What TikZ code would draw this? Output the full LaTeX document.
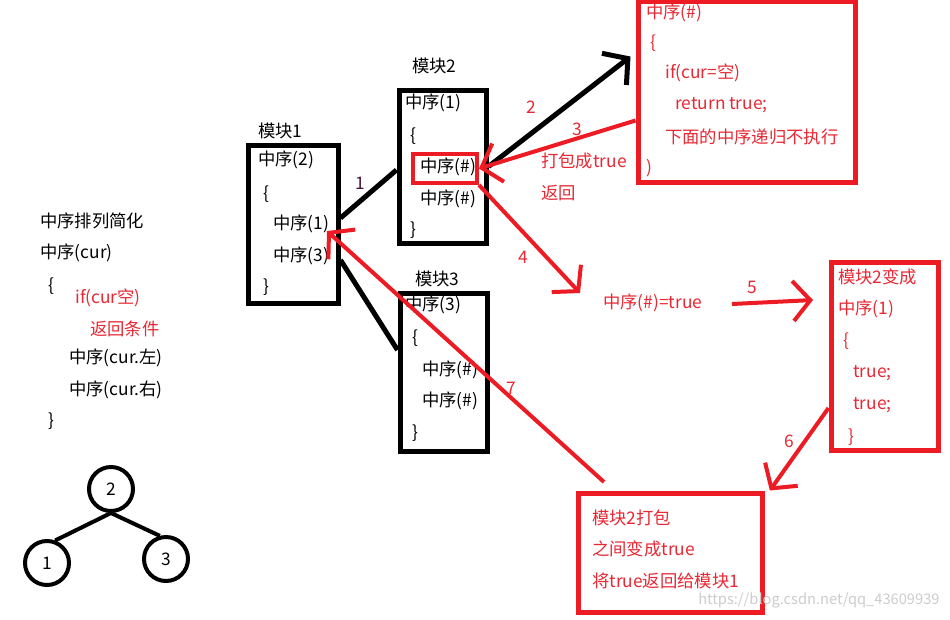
\documentclass[tikz,border=0pt]{standalone}
\usepackage{fontspec}
\setmainfont{Noto Sans CJK SC}
\usetikzlibrary{arrows.meta}
\definecolor{myred}{RGB}{237,28,36}
\definecolor{txtred}{RGB}{232,40,52}
\definecolor{wm}{RGB}{205,205,205}
\tikzset{
  txt/.style={anchor=west,inner sep=0pt,font=\fontsize{13pt}{15pt}\selectfont},
  rtxt/.style={txt,text=txtred},
  blackbox/.style={draw=black,line width=3.75pt,inner sep=0pt},
  redbox/.style={draw=myred,line width=3.75pt,inner sep=0pt},
  circ/.style={draw=black,circle,line width=3pt,minimum size=33pt,inner sep=0pt,font=\fontsize{13pt}{15pt}\selectfont},
  bline/.style={draw=black,line width=3.75pt},
  tline/.style={draw=black,line width=3pt},
  rarrow/.style={draw=myred,line width=3pt,-{Straight Barb[length=13pt,width=30pt]}},
  karrow/.style={draw=black,line width=3.75pt,-{Straight Barb[length=13pt,width=30pt]}},
}
\begin{document}
\begin{tikzpicture}[x=0.75pt,y=-0.75pt]
\useasboundingbox (0,0) rectangle (950,619);
\fill[white] (0,0) rectangle (950,619);

% left text
\node[txt] (t1) at (40,221) {中序排列简化};
\node[txt] (t2) at (40,253) {中序(cur)};
\node[txt] (t3) at (48,286) {\{};
\node[rtxt] (t4) at (75,298) {if(cur空)};
\node[rtxt] (t5) at (90,329) {返回条件};
\node[txt] (t6) at (69,358) {中序(cur.左)};
\node[txt] (t7) at (69,390) {中序(cur.右)};
\node[txt] (t8) at (48,421) {\}};

% tree
\node[circ] (c2) at (111,489) {2};
\node[circ] (c1) at (47,563) {1};
\node[circ] (c3) at (166,559) {3};
\draw[tline] (c2.south) -- (c1.70);
\draw[tline] (c2.south) -- (c3.105);

% box 1
\node[blackbox,minimum width=67.5pt,minimum height=118.5pt] (b1) at (293,224) {};
\node[txt] (b1l) at (258,131) {模块1};
\node[txt] (b1a) at (258,160) {中序(2)};
\node[txt] (b1b) at (263,194) {\{};
\node[txt] (b1c) at (273,224) {中序(1)};
\node[txt] (b1d) at (273,256) {中序(3)};
\node[txt] (b1e) at (263,287) {\}};

% box 2
\node[blackbox,minimum width=65.25pt,minimum height=114.75pt] (b2) at (442.5,166.5) {};
\node[txt] (b2l) at (412,66) {模块2};
\node[txt] (b2a) at (405,103) {中序(1)};
\node[txt] (b2b) at (410,136) {\{};
\node[txt] (b2c) at (420,167) {中序(\#)};
\node[txt] (b2d) at (420,199) {中序(\#)};
\node[txt] (b2e) at (410,230) {\}};
\node[draw=myred,line width=3pt,minimum width=48pt,minimum height=21.75pt,inner sep=0pt] (sr) at (445,168.5) {};

% box 3
\node[blackbox,minimum width=65.25pt,minimum height=118.5pt] (b3) at (443.5,372) {};
\node[txt] (b3l) at (415,279) {模块3};
\node[txt] (b3a) at (405,305) {中序(3)};
\node[txt] (b3b) at (412,338) {\{};
\node[txt] (b3c) at (422,370) {中序(\#)};
\node[txt] (b3d) at (422,401) {中序(\#)};
\node[txt] (b3e) at (412,433) {\}};

% black connectors
\draw[bline] ([yshift=4.5pt]b1.east) -- ([yshift=-2.6pt]b2.west);
\draw[bline] ([yshift=-27pt]b1.east) -- ([yshift=16.5pt]b3.west);
\node[txt,text={rgb,255:red,70;green,20;blue,60}] (n1) at (355,183) {1};

% big red box
\node[redbox,minimum width=162.75pt,minimum height=135.75pt] (rb) at (746.5,91.5) {};
\node[rtxt] (rba) at (646,13) {中序(\#)};
\node[rtxt] (rbb) at (650,43) {\{};
\node[rtxt] (rbc) at (665,73) {if(cur=空)};
\node[rtxt] (rbd) at (675,105) {return true;};
\node[rtxt] (rbe) at (665,137) {下面的中序递归不执行};
\node[rtxt] (rbf) at (646,168) {)};

% arrows 2, 3
\draw[karrow] (b2.east) -- ([xshift=-3.75pt,yshift=26.25pt]rb.west);
\node[rtxt] (n2) at (526,107) {2};
\draw[rarrow] ([yshift=-21.75pt]rb.west) -- (sr.east);
\node[rtxt] (n3) at (572,129) {3};
\node[rtxt] (p1) at (541,161) {打包成true};
\node[rtxt] (p2) at (541,193) {返回};

% arrow 4
\coordinate (a4e) at (580,293);
\draw[rarrow] (sr.south east) -- (a4e);
\node[rtxt] (n4) at (518,257) {4};
\node[rtxt] (eq) at (603,303) {中序(\#)=true};

% arrow 5 and box
\node[redbox,minimum width=80.25pt,minimum height=141pt] (gb) at (884.5,356) {};
\node[rtxt] (gba) at (838,277) {模块2变成};
\node[rtxt] (gbb) at (838,309) {中序(1)};
\node[rtxt] (gbc) at (843,341) {\{};
\node[rtxt] (gbd) at (853,373) {true;};
\node[rtxt] (gbe) at (853,405) {true;};
\node[rtxt] (gbf) at (848,437) {\}};
\coordinate (a5s) at (732,304);
\coordinate (a5e) at (813,300);
\draw[rarrow] (a5s) -- (a5e);
\node[rtxt] (n5) at (747,287) {5};

% bottom box
\node[redbox,minimum width=138pt,minimum height=89.25pt] (bb) at (670,552.5) {};
\node[rtxt] (bba) at (592,518) {模块2打包};
\node[rtxt] (bbb) at (592,549) {之间变成true};
\node[rtxt] (bbc) at (592,581) {将true返回给模块1};

% arrow 6
\draw[rarrow] ([yshift=-39pt]gb.west) -- ([xshift=4pt]bb.north east);
\node[rtxt] (n6) at (784,441) {6};

% arrow 7
\coordinate (a7s) at (604,482);
\coordinate (a7e) at (327,231);
\draw[rarrow] (a7s) -- (a7e);
\node[rtxt] (n7) at (506,388) {7};

% watermark
\node[txt,text=wm,font=\fontsize{11pt}{13pt}\selectfont] (wmk) at (698,600) {https://blog.csdn.net/qq\_43609939};
\end{tikzpicture}
\end{document}
